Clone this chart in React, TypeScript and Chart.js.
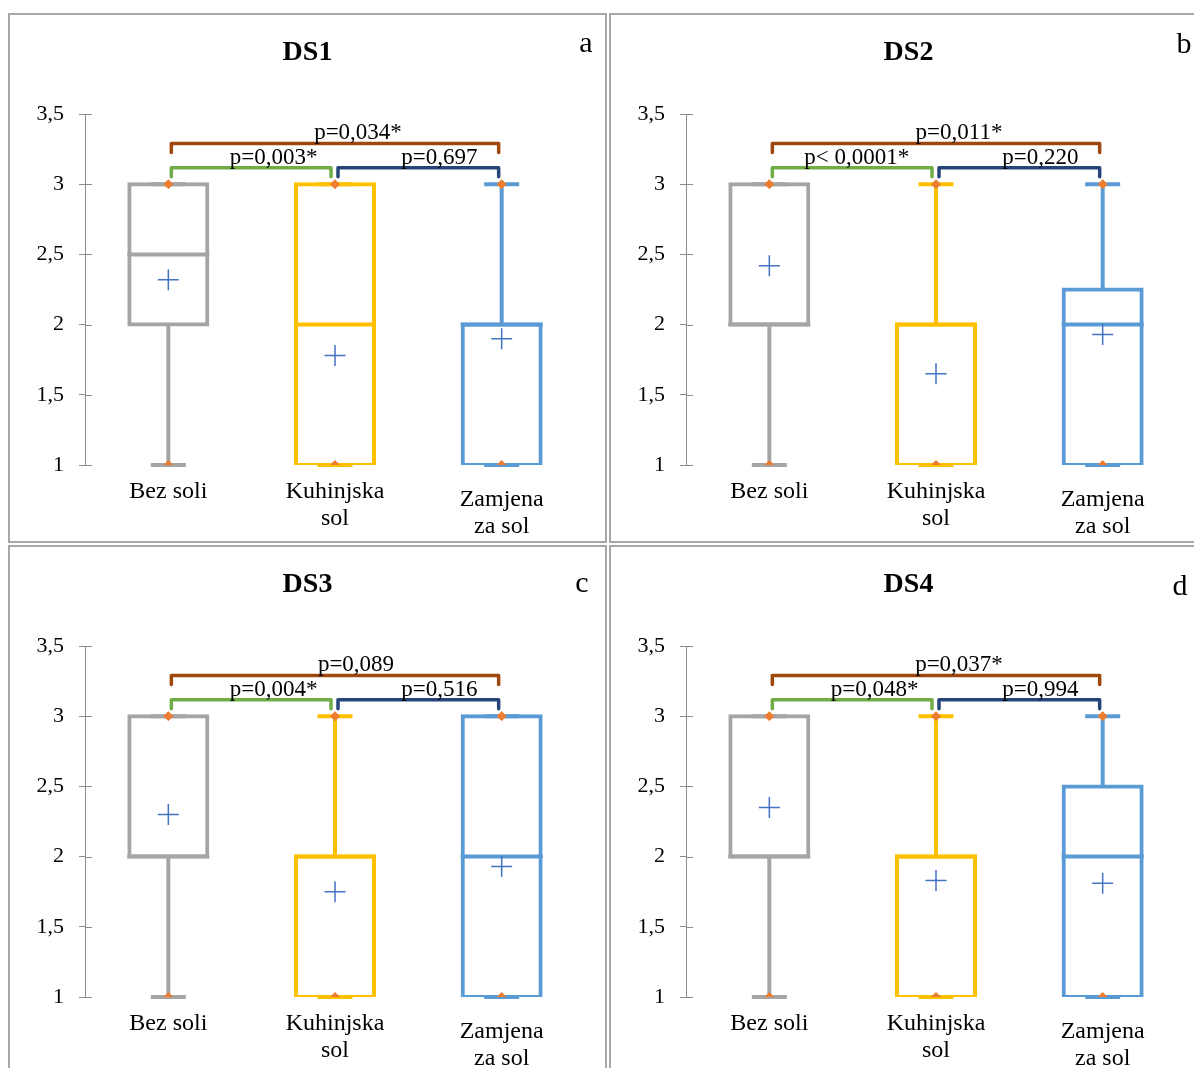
import React, { useEffect, useRef } from "react";
import { Chart, registerables } from "chart.js";

Chart.register(...registerables);

// ---------- data ----------
const categories: string[][] = [["Bez soli"], ["Kuhinjska", "sol"], ["Zamjena", "za sol"]];
const yTickValues = [1, 1.5, 2, 2.5, 3, 3.5];
const yTickLabels = ["1", "1,5", "2", "2,5", "3", "3,5"];
const panelTitles = ["DS1", "DS2", "DS3", "DS4"];
const panelLetters = ["a", "b", "c", "d"];
// comparison pairs: [Bez soli–Kuhinjska], [Kuhinjska–Zamjena], [Bez soli–Zamjena]
const comparisonPairs = [[0, 1], [1, 2], [0, 2]];
const comparisonLevels = [3.117, 3.117, 3.29];

const ds1Min = [1, 1, 1];
const ds1Q1 = [2, 1, 1];
const ds1Median = [2.5, 2, 2];
const ds1Q3 = [3, 3, 2];
const ds1Max = [3, 3, 3];
const ds1Mean = [2.32, 1.78, 1.9];
const ds1PValues = ["p=0,003*", "p=0,697", "p=0,034*"];

const ds2Min = [1, 1, 1];
const ds2Q1 = [2, 1, 1];
const ds2Median = [2, 2, 2];
const ds2Q3 = [3, 2, 2.25];
const ds2Max = [3, 3, 3];
const ds2Mean = [2.42, 1.65, 1.93];
const ds2PValues = ["p< 0,0001*", "p=0,220", "p=0,011*"];

const ds3Min = [1, 1, 1];
const ds3Q1 = [2, 1, 1];
const ds3Median = [2, 2, 2];
const ds3Q3 = [3, 2, 3];
const ds3Max = [3, 3, 3];
const ds3Mean = [2.3, 1.75, 1.93];
const ds3PValues = ["p=0,004*", "p=0,516", "p=0,089"];

const ds4Min = [1, 1, 1];
const ds4Q1 = [2, 1, 1];
const ds4Median = [2, 2, 2];
const ds4Q3 = [3, 2, 2.5];
const ds4Max = [3, 3, 3];
const ds4Mean = [2.35, 1.83, 1.81];
const ds4PValues = ["p=0,048*", "p=0,994", "p=0,037*"];

type PanelData = {
  title: string;
  letter: string;
  min: number[];
  q1: number[];
  median: number[];
  q3: number[];
  max: number[];
  mean: number[];
  pValues: string[];
};

const panels: PanelData[] = [
  { title: panelTitles[0], letter: panelLetters[0], min: ds1Min, q1: ds1Q1, median: ds1Median, q3: ds1Q3, max: ds1Max, mean: ds1Mean, pValues: ds1PValues },
  { title: panelTitles[1], letter: panelLetters[1], min: ds2Min, q1: ds2Q1, median: ds2Median, q3: ds2Q3, max: ds2Max, mean: ds2Mean, pValues: ds2PValues },
  { title: panelTitles[2], letter: panelLetters[2], min: ds3Min, q1: ds3Q1, median: ds3Median, q3: ds3Q3, max: ds3Max, mean: ds3Mean, pValues: ds3PValues },
  { title: panelTitles[3], letter: panelLetters[3], min: ds4Min, q1: ds4Q1, median: ds4Median, q3: ds4Q3, max: ds4Max, mean: ds4Mean, pValues: ds4PValues },
];

// ---------- styles ----------
const SERIF = '"Liberation Serif", "Times New Roman", serif';
const boxColors = ["#A5A5A5", "#FFC000", "#5B9BD5"];
const bracketColors = ["#70AD47", "#264478", "#9E480E"];
const meanColor = "#4472C4";
const pointColor = "#ED7D31";
const axisColor = "#8c8c8c";
const panelPositions = [
  { left: 8, top: 13 },
  { left: 609, top: 13 },
  { left: 8, top: 545 },
  { left: 609, top: 545 },
];
const letterPositions = [
  [576, 37],
  [573, 38],
  [572, 45],
  [569, 48],
];
const pLabelShift = [
  [22, 21, 23],
  [4, 21, 23],
  [22, 21, 21],
  [22, 21, 23],
];
const categoryLabelOffsets = [33, 33, 41];
const TITLE_BASELINE = 45;
const PANEL_W = 599;
const PANEL_H = 530;
const BORDER = 2;
const CANVAS_W = PANEL_W - 2 * BORDER;
const CANVAS_H = PANEL_H - 2 * BORDER;

function makeExtras(p: PanelData, idx: number) {
  return {
    id: "boxExtras" + idx,
    afterDatasetDraw(chart: any, args: any) {
      if (args.index !== 0) return;
      const ctx = chart.ctx as CanvasRenderingContext2D;
      const xs = chart.scales.x;
      const ys = chart.scales.y;
      const meta = chart.getDatasetMeta(0);
      ctx.save();
      categories.forEach((_, i) => {
        const cx = xs.getPixelForValue(i);
        ctx.strokeStyle = boxColors[i];
        ctx.lineWidth = 4;
        ctx.lineCap = "butt";
        const yq1 = ys.getPixelForValue(p.q1[i]);
        const yq3 = ys.getPixelForValue(p.q3[i]);
        const ymin = ys.getPixelForValue(p.min[i]);
        const ymax = ys.getPixelForValue(p.max[i]);
        const ymed = ys.getPixelForValue(p.median[i]);
        ctx.beginPath();
        if (p.max[i] > p.q3[i]) {
          ctx.moveTo(cx, yq3);
          ctx.lineTo(cx, ymax);
        }
        if (p.min[i] < p.q1[i]) {
          ctx.moveTo(cx, yq1);
          ctx.lineTo(cx, ymin);
        }
        ctx.stroke();
        // caps
        ctx.beginPath();
        ctx.moveTo(cx - 17.5, ymax);
        ctx.lineTo(cx + 17.5, ymax);
        ctx.moveTo(cx - 17.5, ymin);
        ctx.lineTo(cx + 17.5, ymin);
        ctx.stroke();
        // median
        const el = meta.data[i];
        const half = el.width / 2 + 2;
        ctx.beginPath();
        ctx.moveTo(cx - half, ymed);
        ctx.lineTo(cx + half, ymed);
        ctx.stroke();
      });
      ctx.restore();
    },
    afterDraw(chart: any) {
      const ctx = chart.ctx as CanvasRenderingContext2D;
      const xs = chart.scales.x;
      const ys = chart.scales.y;
      const area = chart.chartArea;
      ctx.save();
      // inner part of the cross tick marks
      ctx.strokeStyle = axisColor;
      ctx.lineWidth = 1;
      ctx.beginPath();
      yTickValues.forEach((v) => {
        const y = Math.round(ys.getPixelForValue(v)) + 0.5;
        ctx.moveTo(area.left, y);
        ctx.lineTo(area.left + 7, y);
      });
      ctx.stroke();

      // comparison brackets
      ctx.lineWidth = 3.5;
      ctx.lineCap = "round";
      ctx.lineJoin = "round";
      comparisonPairs.forEach((pair, k) => {
        const x1 = xs.getPixelForValue(pair[0]) + 3;
        const x2 = xs.getPixelForValue(pair[1]) - (k === 0 ? 4 : 3);
        const y = ys.getPixelForValue(comparisonLevels[k]);
        ctx.strokeStyle = bracketColors[k];
        ctx.beginPath();
        ctx.moveTo(x1, y + 9);
        ctx.lineTo(x1, y);
        ctx.lineTo(x2, y);
        ctx.lineTo(x2, y + 9);
        ctx.stroke();
      });
      ctx.fillStyle = "#000";
      ctx.font = `23px ${SERIF}`;
      ctx.textAlign = "center";
      ctx.textBaseline = "alphabetic";
      comparisonPairs.forEach((pair, k) => {
        const x1 = xs.getPixelForValue(pair[0]);
        const x2 = xs.getPixelForValue(pair[1]);
        const y = ys.getPixelForValue(comparisonLevels[k]);
        ctx.fillText(p.pValues[k], (x1 + x2) / 2 + pLabelShift[idx][k], y - 4);
      });

      // category labels
      ctx.font = `24px ${SERIF}`;
      categories.forEach((lines, i) => {
        const cx = xs.getPixelForValue(i);
        lines.forEach((line, j) => {
          ctx.fillText(line, cx, area.bottom + categoryLabelOffsets[i] + j * 27);
        });
      });

      // title
      ctx.font = `bold 28px ${SERIF}`;
      ctx.fillText(p.title, chart.width / 2, TITLE_BASELINE);

      // panel letter
      ctx.font = `30px ${SERIF}`;
      ctx.fillText(p.letter, letterPositions[idx][0], letterPositions[idx][1]);
      ctx.restore();
    },
  };
}

function Panel({ p, idx }: { p: PanelData; idx: number }) {
  const ref = useRef<HTMLCanvasElement>(null);
  useEffect(() => {
    const canvas = ref.current;
    if (!canvas) return;
    const labels = categories.map((c) => c.join(" "));
    const chart = new Chart(canvas, {
      type: "bar",
      data: {
        labels,
        datasets: [
          {
            type: "bar",
            data: p.q1.map((v, i) => [v, p.q3[i]]) as any,
            backgroundColor: "#ffffff",
            borderColor: boxColors,
            borderWidth: 4,
            inflateAmount: 2,
            borderSkipped: false,
            barPercentage: 0.468,
            categoryPercentage: 1,
            order: 3,
          } as any,
          {
            type: "line",
            data: p.mean,
            showLine: false,
            pointStyle: "cross",
            pointRadius: 10.5,
            pointBorderColor: meanColor,
            pointBorderWidth: 1.5,
            pointBackgroundColor: meanColor,
            order: 1,
          } as any,
          {
            type: "line",
            data: p.max,
            showLine: false,
            pointStyle: "rectRot",
            pointRadius: 4.5,
            pointBorderColor: pointColor,
            pointBorderWidth: 1,
            pointBackgroundColor: pointColor,
            order: 0,
          } as any,
          {
            type: "line",
            data: p.min,
            showLine: false,
            pointStyle: "rectRot",
            pointRadius: 4.5,
            pointBorderColor: pointColor,
            pointBorderWidth: 1,
            pointBackgroundColor: pointColor,
            order: 0,
          } as any,
        ],
      },
      options: {
        responsive: false,
        animation: false,
        events: [],
        layout: { padding: { left: 0, right: 20, top: 99, bottom: 76 } },
        plugins: {
          legend: { display: false },
          tooltip: { enabled: false },
          title: { display: false },
        },
        scales: {
          x: {
            type: "category",
            display: false,
            offset: true,
          },
          y: {
            min: 1,
            max: 3.5,
            afterFit: (scale: any) => {
              scale.width = 75;
            },
            ticks: {
              stepSize: 0.5,
              color: "#000",
              padding: 15,
              font: { family: SERIF, size: 22 },
              callback: (value: any) => {
                const k = yTickValues.indexOf(Number(value));
                return k >= 0 ? yTickLabels[k] : "";
              },
            },
            grid: {
              drawOnChartArea: false,
              tickLength: 6,
              color: axisColor,
              lineWidth: 1,
            },
            border: { display: true, color: axisColor, width: 1 },
          },
        },
      } as any,
      plugins: [makeExtras(p, idx)],
    });
    return () => chart.destroy();
  }, [p, idx]);

  const pos = panelPositions[idx];
  return (
    <div
      style={{
        position: "absolute",
        left: pos.left,
        top: pos.top,
        width: PANEL_W,
        height: PANEL_H,
        boxSizing: "border-box",
        border: `${BORDER}px solid #a8a8a8`,
        background: "#fff",
      }}
    >
      <canvas
        ref={ref}
        width={CANVAS_W}
        height={CANVAS_H}
        style={{ display: "block", width: CANVAS_W, height: CANVAS_H }}
      />
    </div>
  );
}

export default function App() {
  return (
    <div
      style={{
        position: "absolute",
        left: 0,
        top: 0,
        width: 1194,
        height: 1068,
        overflow: "hidden",
        background: "#fff",
      }}
    >
      {panels.map((p, i) => (
        <Panel key={i} p={p} idx={i} />
      ))}
    </div>
  );
}
